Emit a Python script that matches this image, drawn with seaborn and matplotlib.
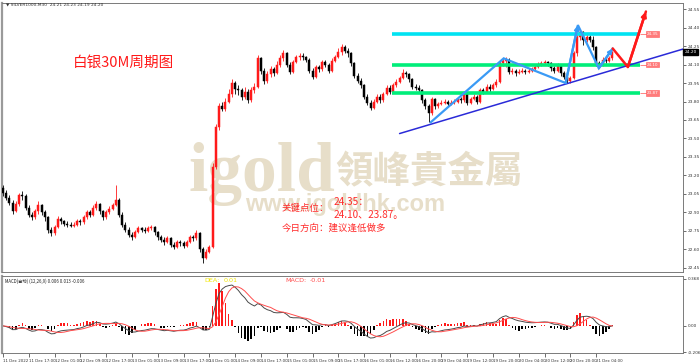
import numpy as np
import pandas as pd
import matplotlib
matplotlib.use("Agg")
import matplotlib.pyplot as plt
import seaborn as sns

# ---------------- data (each bar = one hour) ----------------
closes = [23.06, 23.02, 22.98, 22.91, 22.97, 23.04, 23.03, 22.94, 22.88, 22.86,
          22.91, 22.96, 22.90, 22.86, 22.76, 22.73, 22.78, 22.85, 22.83, 22.81,
          22.80, 22.79, 22.80, 22.83, 22.82, 22.86, 22.90, 22.88, 22.94, 22.97,
          22.91, 22.86, 22.90, 22.93, 22.96, 23.00, 22.88, 22.80, 22.76, 22.72,
          22.70, 22.74, 22.77, 22.76, 22.75, 22.77, 22.78, 22.74, 22.70, 22.68,
          22.66, 22.69, 22.64, 22.62, 22.66, 22.65, 22.63, 22.66, 22.70, 22.69,
          22.73, 22.60, 22.53, 22.58, 22.62, 23.27, 23.59, 23.76, 23.74, 23.80,
          23.86, 23.95, 23.90, 23.89, 23.84, 23.88, 23.81, 23.89, 23.92, 24.15,
          24.05, 23.97, 24.02, 24.06, 24.03, 24.10, 24.15, 24.19, 24.10, 24.04,
          24.12, 24.16, 24.17, 24.16, 24.14, 24.05, 24.00, 24.08, 24.06, 24.12,
          24.10, 24.05, 24.13, 24.16, 24.20, 24.24, 24.21, 24.19, 24.11, 24.01,
          23.97, 23.93, 23.84, 23.79, 23.75, 23.80, 23.84, 23.81, 23.86, 23.91,
          23.88, 23.93, 23.96, 23.99, 24.03, 24.02, 23.98, 23.92, 23.91, 23.89,
          23.81, 23.76, 23.71, 23.82, 23.76, 23.78, 23.79, 23.80, 23.78, 23.79,
          23.80, 23.82, 23.81, 23.86, 23.79, 23.82, 23.84, 23.80, 23.89, 23.88,
          23.92, 23.90, 23.93, 23.96, 24.11, 24.13, 24.14, 24.04, 24.05, 24.03,
          24.04, 24.05, 24.04, 24.05, 24.06, 24.08, 24.10, 24.11, 24.12, 24.11,
          24.07, 24.05, 24.09, 24.03, 24.00, 23.97, 23.99, 24.19, 24.32, 24.36,
          24.30, 24.32, 24.30, 24.24, 24.11, 24.10, 24.14, 24.13, 24.15, 24.20]
highs = [23.12, 23.08, 23.04, 23.00, 22.99, 23.06, 23.07, 23.05, 22.96, 22.90,
         22.93, 22.99, 22.97, 22.92, 22.87, 22.78, 22.80, 22.87, 22.86, 22.84,
         22.83, 22.82, 22.82, 22.85, 22.85, 22.88, 22.92, 22.92, 22.96, 22.99,
         22.98, 22.92, 22.92, 22.95, 22.98, 23.12, 23.02, 22.90, 22.82, 22.78,
         22.74, 22.76, 22.79, 22.78, 22.78, 22.79, 22.80, 22.79, 22.75, 22.72,
         22.70, 22.71, 22.70, 22.66, 22.68, 22.68, 22.67, 22.68, 22.72, 22.72,
         22.76, 22.74, 22.62, 22.60, 22.64, 23.30, 23.62, 23.79, 23.80, 23.83,
         23.90, 23.98, 23.97, 23.93, 23.91, 23.92, 23.90, 23.92, 23.95, 24.18,
         24.16, 24.07, 24.05, 24.09, 24.08, 24.13, 24.18, 24.22, 24.20, 24.12,
         24.14, 24.18, 24.19, 24.19, 24.17, 24.15, 24.07, 24.10, 24.10, 24.14,
         24.14, 24.11, 24.15, 24.18, 24.23, 24.27, 24.26, 24.23, 24.20, 24.12,
         24.03, 23.99, 23.94, 23.86, 23.81, 23.82, 23.86, 23.86, 23.88, 23.93,
         23.93, 23.95, 23.98, 24.01, 24.06, 24.05, 24.03, 23.99, 23.94, 23.93,
         23.90, 23.83, 23.78, 23.84, 23.83, 23.80, 23.81, 23.82, 23.81, 23.81,
         23.82, 23.84, 23.84, 23.88, 23.87, 23.84, 23.86, 23.85, 23.91, 23.91,
         23.94, 23.94, 23.95, 23.98, 24.13, 24.15, 24.16, 24.15, 24.07, 24.06,
         24.06, 24.07, 24.06, 24.07, 24.08, 24.10, 24.12, 24.13, 24.14, 24.13,
         24.12, 24.09, 24.11, 24.10, 24.05, 24.02, 24.01, 24.21, 24.35, 24.38,
         24.37, 24.35, 24.34, 24.33, 24.25, 24.13, 24.16, 24.16, 24.17, 24.21]
lows = [23.03, 23.00, 22.96, 22.89, 22.90, 22.95, 23.00, 22.92, 22.86, 22.84,
        22.85, 22.89, 22.88, 22.83, 22.73, 22.71, 22.72, 22.77, 22.81, 22.79,
        22.78, 22.78, 22.78, 22.79, 22.80, 22.81, 22.85, 22.86, 22.87, 22.92,
        22.89, 22.84, 22.85, 22.89, 22.92, 22.95, 22.86, 22.78, 22.74, 22.70,
        22.68, 22.69, 22.73, 22.74, 22.73, 22.74, 22.76, 22.72, 22.68, 22.66,
        22.64, 22.65, 22.62, 22.60, 22.61, 22.63, 22.61, 22.62, 22.65, 22.67,
        22.68, 22.58, 22.49, 22.52, 22.57, 22.61, 23.25, 23.57, 23.72, 23.72,
        23.79, 23.84, 23.86, 23.85, 23.81, 23.82, 23.79, 23.80, 23.87, 23.91,
        24.02, 23.94, 23.95, 24.00, 24.01, 24.02, 24.08, 24.13, 24.08, 24.02,
        24.03, 24.11, 24.14, 24.14, 24.12, 24.03, 23.98, 23.99, 24.04, 24.05,
        24.08, 24.03, 24.04, 24.12, 24.15, 24.18, 24.19, 24.16, 24.09, 23.99,
        23.95, 23.91, 23.82, 23.77, 23.73, 23.74, 23.79, 23.79, 23.80, 23.85,
        23.86, 23.87, 23.92, 23.95, 23.98, 24.00, 23.96, 23.90, 23.89, 23.87,
        23.79, 23.74, 23.63, 23.69, 23.74, 23.75, 23.77, 23.78, 23.76, 23.77,
        23.78, 23.79, 23.79, 23.80, 23.77, 23.78, 23.81, 23.78, 23.79, 23.86,
        23.87, 23.88, 23.89, 23.92, 23.95, 24.09, 24.08, 24.02, 24.02, 24.01,
        24.02, 24.03, 24.02, 24.03, 24.04, 24.05, 24.07, 24.09, 24.10, 24.09,
        24.05, 24.03, 24.04, 24.01, 23.98, 23.95, 23.95, 23.98, 24.17, 24.30,
        24.26, 24.28, 24.28, 24.22, 24.09, 24.08, 24.09, 24.11, 24.12, 24.14]
first_open = 23.10

x_labels = ["11 Dec 2022", "11 Dec 17:00", "12 Dec 01:00", "12 Dec 09:00", "12 Dec 17:00",
            "13 Dec 01:00", "13 Dec 09:00", "13 Dec 17:00", "14 Dec 01:00", "14 Dec 09:00",
            "14 Dec 17:00", "15 Dec 01:00", "15 Dec 09:00", "15 Dec 17:00", "16 Dec 01:00",
            "16 Dec 12:00", "16 Dec 20:00", "19 Dec 04:00", "19 Dec 12:00", "19 Dec 20:00",
            "20 Dec 04:00", "20 Dec 12:00", "20 Dec 20:00", "21 Dec 04:00"]
label_every = 8  # bars between time labels

price_ticks = [24.55, 24.40, 24.25, 24.10, 23.95, 23.80, 23.65, 23.50,
               23.35, 23.20, 23.05, 22.90, 22.75, 22.60, 22.45]
macd_ticks = [0.368, 0.0, -0.206]
macd_tick_labels = ["0.368", "0.00", "-0.206"]

levels = [24.35, 24.10, 23.87]
level_labels = ["24.35", "24.10", "23.87"]
level_colors = ["#00e3f2", "#00ee7a", "#00ee7a"]
level_span = (120.5, 197.5)

trend_x = [123.0, 211.5]
trend_y = [23.54, 24.23]
blue_path_x = [132.6, 155.3, 174.5, 178.3, 184.8, 189.1]
blue_path_y = [23.63, 24.15, 23.95, 24.42, 24.07, 24.23]
red_path_x = [189.1, 193.8, 199.4]
red_path_y = [24.23, 24.08, 24.53]

last_price = "24.20"
macd_fast, macd_slow, macd_signal = 6, 13, 5   # 12/26/9 on 30-min bars ~ 6/13/5 on hourly bars

# ---------------- styling ----------------
sns.set_theme(style="white")
plt.rcParams["font.family"] = ["DejaVu Sans", "Noto Sans CJK SC"]
CJK = ["Noto Sans CJK SC", "DejaVu Sans"]
UP, DOWN = "#ff1a1a", "#000000"
WM = "#e7dec9"

W, H = 700, 364
fig = plt.figure(figsize=(W / 100, H / 100), dpi=100)
fig.patch.set_facecolor("white")

def fx(px):
    return px / W

def fy(py):
    return 1 - py / H

ax = fig.add_axes([fx(2), fy(272), fx(681), 269 / H])
ax2 = fig.add_axes([fx(2), fy(353), fx(681), 77 / H], sharex=ax)

# ---------------- candles ----------------
opens = [first_open] + closes[:-1]
df = pd.DataFrame({"bar": np.arange(len(closes)), "open": opens, "high": highs,
                   "low": lows, "close": closes})
cols = np.where(df["close"] >= df["open"], UP, DOWN)
ax.vlines(df["bar"], df["low"], df["high"], colors=cols, lw=0.6, zorder=3)
ax.bar(df["bar"], df["close"] - df["open"], bottom=df["open"], width=0.62,
       color=cols, edgecolor=cols, linewidth=0.35, zorder=4)

xmin, xmax = -0.3, 210.9
ymin, ymax = 22.417, 24.599
ax.set_xlim(xmin, xmax)
ax.set_ylim(ymin, ymax)

# watermark
ax.text(fx(188), fy(191), "igold", transform=fig.transFigure, fontsize=50,
        family="Liberation Serif", fontweight="bold", color=WM,
        ha="left", va="baseline", zorder=0)
ax.text(fx(335), fy(172), "領峰貴金屬", transform=fig.transFigure, fontsize=27,
        family=["Noto Sans CJK TC", "DejaVu Sans"], fontweight="bold", color=WM,
        ha="left", va="center", zorder=0)
ax.text(fx(245), fy(205), "www.igoldhk.com", transform=fig.transFigure, fontsize=17,
        family="Liberation Sans", fontweight="bold", color=WM,
        ha="left", va="center", zorder=0)

# levels
for lv, lab, c in zip(levels, level_labels, level_colors):
    ax.hlines(lv, level_span[0], level_span[1], colors=c, lw=2.6, zorder=5)
    ax.hlines(lv, level_span[1], level_span[1] + 2.2, colors="#ff6f6f", lw=0.6, zorder=5)
    ax.text(level_span[1] + 2.2, lv, lab, fontsize=3.0, color="white", ha="left", va="center",
            zorder=6, bbox=dict(boxstyle="square,pad=0.2", fc="#ff7b7b", ec="#ff5a5a", lw=0.4))

# trend line and arrows
ax.plot(trend_x, trend_y, color="#2a2ad8", lw=1.1, zorder=6)
ax.plot(blue_path_x, blue_path_y, color="#3a9af5", lw=1.6, zorder=7, solid_joinstyle="miter")
for i in (3, 5):
    ax.annotate("", xy=(blue_path_x[i], blue_path_y[i]),
                xytext=(blue_path_x[i - 1], blue_path_y[i - 1]),
                arrowprops=dict(arrowstyle="-|>", color="#3a9af5", lw=1.6,
                                mutation_scale=6, shrinkA=0, shrinkB=0), zorder=7)
ax.plot(red_path_x, red_path_y, color="#ff1a1a", lw=1.8, zorder=7)
ax.annotate("", xy=(red_path_x[-1], red_path_y[-1]), xytext=(red_path_x[-2], red_path_y[-2]),
            arrowprops=dict(arrowstyle="-|>", color="#ff1a1a", lw=1.8,
                            mutation_scale=7, shrinkA=0, shrinkB=0), zorder=7)

# y ticks on the right
ax.yaxis.tick_right()
ax.set_yticks(price_ticks)
ax.set_yticklabels([f"{t:.2f}" for t in price_ticks])
ax.tick_params(axis="y", labelsize=3.1, length=2, width=0.5, pad=1.2,
               colors="#333333", right=True)
ax.tick_params(axis="x", bottom=False, labelbottom=False)
ax.text(1.002, (24.20 - ymin) / (ymax - ymin), last_price, transform=ax.transAxes,
        fontsize=3.1, color="white", ha="left", va="center", zorder=10,
        bbox=dict(boxstyle="square,pad=0.3", fc="black", ec="black"), clip_on=False)
for s in ax.spines.values():
    s.set_color("#7a7a7a")
    s.set_linewidth(0.7)
ax.spines["left"].set_linewidth(1.6)
ax.spines["left"].set_color("#9a9a9a")

# texts
fig.text(fx(6), fy(5), "▼ SILVER1000,M30  24.21 24.23 24.19 24.20", fontsize=3.2,
         color="#333333", ha="left", va="center")
fig.text(fx(73), fy(63), "白银30M周期图", fontsize=10.5, color="#ff1a1a",
         family=CJK, ha="left", va="center")
fig.text(fx(282), fy(208), "关键点位：", fontsize=6.8, color="#ff2a2a", family=CJK,
         ha="left", va="center")
fig.text(fx(334), fy(202), "24.35：", fontsize=7.2, color="#ff2a2a", family=CJK,
         ha="left", va="center")
fig.text(fx(334), fy(215), "24.10、23.87。", fontsize=7.2, color="#ff2a2a", family=CJK,
         ha="left", va="center")
fig.text(fx(282), fy(228), "今日方向：建议逢低做多", fontsize=6.8, color="#ff2a2a",
         family=CJK, ha="left", va="center")

# ---------------- MACD (MT4 style: signal = simple average of the main line) ----------------
s = pd.Series(closes)
dif = s.ewm(span=macd_fast, adjust=False).mean() - s.ewm(span=macd_slow, adjust=False).mean()
dea = dif.rolling(macd_signal, min_periods=1).mean()
hist = 2 * (dif - dea)
mdf = pd.DataFrame({"bar": np.arange(len(closes)), "dif": dif, "dea": dea, "hist": hist})
mdf["sign"] = np.where(mdf["hist"] >= 0, "pos", "neg")

sns.barplot(data=mdf, x="bar", y="hist", hue="sign", palette={"pos": UP, "neg": DOWN},
            native_scale=True, dodge=False, width=0.5, legend=False, ax=ax2,
            saturation=1, linewidth=0)
sns.lineplot(data=mdf, x="bar", y="dif", color="#4a4a4a", lw=0.7, ax=ax2)
sns.lineplot(data=mdf, x="bar", y="dea", color="#ff4d4d", lw=0.7, ax=ax2)
ax2.set_xlim(xmin, xmax)
ax2.set_ylim(-0.212, 0.39)
ax2.set_xlabel("")
ax2.set_ylabel("")
ax2.yaxis.tick_right()
ax2.set_yticks(macd_ticks)
ax2.set_yticklabels(macd_tick_labels)
ax2.tick_params(axis="y", labelsize=3.1, length=2, width=0.5, pad=1.2, colors="#333333")
ax2.set_xticks([k * label_every for k in range(len(x_labels))])
ax2.set_xticklabels(x_labels)
ax2.tick_params(axis="x", labelsize=2.9, length=3, width=0.5, pad=1.5, colors="#333333",
                bottom=True, direction="out")
for lbl in ax2.get_xticklabels():
    lbl.set_ha("left")
for s_ in ax2.spines.values():
    s_.set_color("#7a7a7a")
    s_.set_linewidth(0.7)
ax2.spines["left"].set_linewidth(1.6)
ax2.spines["left"].set_color("#9a9a9a")

ax2.text(0.004, 0.93, "MACD(自动) (12,26,9) 0.006 0.013 -0.006", transform=ax2.transAxes,
         fontsize=3.1, color="#222222", family=CJK, ha="left", va="center")
fig.text(fx(204), fy(280), "DEA:", fontsize=4.6, color="#f2e600", ha="left", va="center")
fig.text(fx(224), fy(280), "0.01", fontsize=4.6, color="#f2e600", ha="left", va="center")
fig.text(fx(285), fy(280), "MACD:", fontsize=4.6, color="#ff4d4d", ha="left", va="center")
fig.text(fx(310), fy(280), "-0.01", fontsize=4.6, color="#ff4d4d", ha="left", va="center")

fig.savefig("out.png", dpi=100, facecolor="white")
